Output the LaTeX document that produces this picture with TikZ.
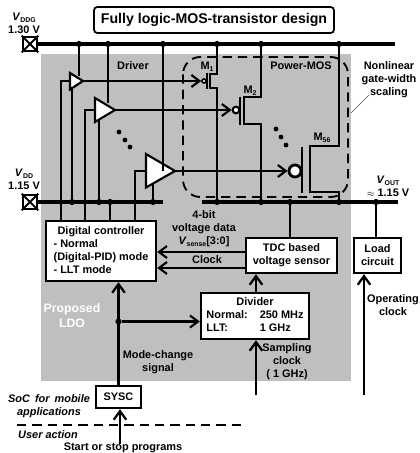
\documentclass[tikz,border=0pt]{standalone}
\usepackage{fontspec}
\setmainfont{Liberation Sans}
\usetikzlibrary{arrows.meta}
\tikzset{
 wire/.style={line width=1.65pt},
 bus/.style={line width=2.5pt},
 arr/.style={line width=2pt,-{Straight Barb[length=6.5pt,width=9.5pt,line width=1.7pt]}},
 thinarr/.style={line width=1.6pt,-{Straight Barb[length=6pt,width=9pt,line width=1.6pt]}},
 blk/.style={draw,line width=1.8pt,fill=white,inner sep=0pt,font=\bfseries\fontsize{8.2}{9.75}\selectfont,align=center},
 lab/.style={inner sep=0pt,font=\bfseries\fontsize{8.2}{9.75}\selectfont,align=center},
 ital/.style={inner sep=0pt,font=\bfseries\itshape\fontsize{8.2}{9.75}\selectfont,align=center},
 dotn/.style={circle,fill=black,inner sep=0pt,minimum size=4.6pt},
 bdot/.style={circle,fill=black,inner sep=0pt,minimum size=3.6pt},
 drv/.style={draw,line width=1.6pt,fill=white},
 padbox/.style={draw,line width=2pt,fill=white,minimum size=10.5pt,inner sep=0pt},
}
\newcommand{\lowtxt}[1]{\raisebox{-1.5pt}[0pt][0pt]{\fontsize{5.2}{6}\selectfont #1}}
\newcommand{\subv}[2]{\textit{#1}\lowtxt{#2}}
\begin{document}
\begin{tikzpicture}[x=0.75pt,y=-0.75pt]
\useasboundingbox (0,0) rectangle (420,453);
\fill[black!25] (41,54) rectangle (351,381);

% supply pads
\node[padbox] (padA) at (30,44) {};
\node[padbox] (padB) at (30,202) {};
\foreach \p in {padA,padB}{
 \draw[line width=1.5pt] (\p.north west) -- (\p.south east) (\p.north east) -- (\p.south west);
}
% bus ends
\coordinate (busAend) at (395,44);
\coordinate (busBend) at (163,202);
\coordinate (busCstart) at (202,202);
\coordinate (busCend) at (398,202);
\draw[bus] (padA) -- (busAend);
\draw[bus] (padB) -- (busBend);
\draw[bus] (busCstart) -- (busCend);

% junctions, top bus
\foreach \n/\x in {ta/79,tb/108,tc/163,td/217,te/261,tf/339}{
 \node[dotn] (\n) at (\x,44) {};
}
% junctions, VDD bus
\foreach \n/\x in {ba/72,bb/99,bc/110,bd/153,be/217,bf/261,bg/290,bh/339,bi/376}{
 \node[dotn] (\n) at (\x,202) {};
}

% blocks
\node[blk,minimum width=82.5pt,minimum height=45pt] (ctrl) at (101,251) {%
 \begin{tabular}{@{}l@{}}\multicolumn{1}{@{}c@{}}{Digital controller}\\- Normal\\(Digital-PID) mode\\- LLT mode\end{tabular}};
\node[blk,minimum width=68.25pt,minimum height=26.25pt] (tdc) at (291.5,255.5) {TDC based\\voltage sensor};
\node[blk,minimum width=35.25pt,minimum height=26.25pt] (load) at (377.5,255.5) {Load\\circuit};
\node[blk,minimum width=81pt,minimum height=34.5pt] (div) at (255,316) {%
 \begin{tabular}{@{}l@{\hspace{9pt}}l@{}}\multicolumn{2}{@{}c@{}}{Divider}\\Normal:&250 MHz\\LLT:&1 GHz\end{tabular}};
\node[blk,minimum width=33.75pt,minimum height=16.5pt] (sysc) at (118.5,397) {SYSC};
\node[draw,line width=1.3pt,rounded corners=2.5pt,inner sep=0pt,minimum width=180pt,minimum height=19.5pt,font=\bfseries\fontsize{10.6}{12}\selectfont] (title) at (214,20) {Fully logic-MOS-transistor design};

% drivers
\coordinate (d1in) at (70,81);  \coordinate (d1out) at (83,81);
\coordinate (d2in) at (95,110); \coordinate (d2out) at (115,110);
\coordinate (d3in) at (146,171);\coordinate (d3out) at (175,171);
% driver supply and inputs
\draw[wire] (ta) -- (79,76);
\draw[wire] (tb) -- (108,103);
\draw[wire] (ba) -- (72,88);
\draw[wire] (bb) -- (99,120);
\draw[wire] (bd) -- (153,183);
\draw[wire] (bc) -- (ctrl.north -| bc);
\draw[wire] (61,221) |- (d1in);
\draw[wire] (85,221) |- (d2in);
\draw[wire] (135,221) |- (d3in);
\draw[drv] (70,73) -- (83,81) -- (70,89.5) -- cycle;
\draw[drv] (95,98) -- (115,110) -- (95,122) -- cycle;
\draw[drv] (146,154) -- (175,171) -- (146,187.5) -- cycle;

% power transistors
\node[draw,circle,line width=1.2pt,fill=white,minimum size=3pt,inner sep=0pt] (g1) at (204,81) {};
\node[draw,circle,line width=1.6pt,fill=white,minimum size=5pt,inner sep=0pt] (g2) at (236,110) {};
\node[draw,circle,line width=2.1pt,fill=white,minimum size=9pt,inner sep=0pt] (g3) at (295,171) {};
\draw[thinarr] (d1out) -- (g1);
\draw[thinarr] (d2out) -- (g2);
\draw[thinarr] (d3out) -- (g3);
\draw[line width=2pt] (207,73) -- (207,89);
\draw[line width=2pt] (240,97) -- (240,125);
\draw[line width=2pt] (302,147) -- (302,193);
\draw[wire] (td) -- (217,74) -- (210,74) -- (210,88) -- (217,88) -- (be);
\draw[wire] (te) -- (261,97) -- (244,97) -- (244,124) -- (261,124) -- (bf);
\draw[wire] (tf) -- (339,146) -- (310,146) -- (310,192) -- (339,192) -- (bh);
\draw[wire] (tc) -- (163,171);

% dashed outline
\draw[line width=1.4pt,dash pattern=on 7pt off 4.5pt,rounded corners=13pt] (183,57) rectangle (348,197);
\foreach \x/\y in {119/132,125/140,130/147,276/129,281/137,286/145}{
 \node[bdot] at (\x,\y) {};
}
\coordinate (lead1) at (351,113);
\coordinate (lead2) at (369,95);
\draw[line width=0.5pt,black!70] (lead1) -- (lead2);

% signal wiring
\draw[wire] (bg) -- (tdc.north -| bg);
\draw[wire] (bi) -- (load.north -| bi);
\coordinate (s1) at (tdc.west |- 0,252);
\coordinate (s2) at (tdc.west |- 0,268);
\coordinate (c1) at (ctrl.east |- 0,252);
\coordinate (c2) at (ctrl.east |- 0,268);
\draw[thinarr] (s1) -- (c1);
\draw[thinarr] (s2) -- (c2);
\draw[arr] (sysc.north) -- (ctrl.south -| sysc.north);
\node[dotn] (modej) at (118.5,321.5) {};
\draw[thinarr] (modej) -- (div.west |- modej);
\draw[arr] (div.north -| 256,0) -- (tdc.south -| 256,0);
\coordinate (sampIn) at (256,395);
\coordinate (opIn) at (364,395);
\coordinate (userIn) at (120,444);
\draw[arr] (sampIn) -- (div.south -| sampIn);
\draw[arr] (opIn) -- (load.south -| opIn);
\draw[arr] (userIn) -- (sysc.south -| userIn);
\coordinate (sepL) at (17,425);
\coordinate (sepR) at (241,425);
\draw[line width=1.4pt,dash pattern=on 7pt off 4.5pt] (sepL) -- (sepR);

% labels
\node[lab] (lddg) at (24,23.5) {\subv{V}{DDG}\\1.30 V};
\node[lab] (ldd) at (24,179.5) {\subv{V}{DD}\\1.15 V};
\node[lab] (lout) at (388,186.5) {\subv{V}{OUT}\\{\fontsize{6}{7}\selectfont$\approx$} 1.15 V};
\node[lab] (ldriver) at (133,66) {Driver};
\node[lab] (lpower) at (301,66) {Power-MOS};
\node[lab] (lm1) at (207,66) {M\lowtxt{1}};
\node[lab] (lm2) at (250,90) {M\lowtxt{2}};
\node[lab] (lm56) at (322,137) {M\lowtxt{56}};
\node[lab] (lscale) at (389,80) {Nonlinear\\gate-width\\scaling};
\node[lab] (lvolt) at (204,229) {4-bit\\voltage data\\\subv{V}{sense}[3:0]};
\node[lab] (lclock) at (207,260) {Clock};
\node[lab,white,font=\bfseries\fontsize{9.2}{11.2}\selectfont] (lldo) at (72,315.5) {Proposed\\LDO};
\node[lab] (lmode) at (158,362.5) {Mode-change\\signal};
\node[lab] (lsamp) at (287,362) {Sampling\\clock\\( 1 GHz)};
\node[lab] (lop) at (393,305.5) {Operating\\clock};
\node[ital] (lsoc) at (49,406.5) {SoC\hspace{1.5pt} for\hspace{1.5pt} mobile\\applications};
\node[ital] (luser) at (48,435) {User action};
\node[lab] (lstart) at (123,447.5) {Start or stop programs};
\end{tikzpicture}
\end{document}
